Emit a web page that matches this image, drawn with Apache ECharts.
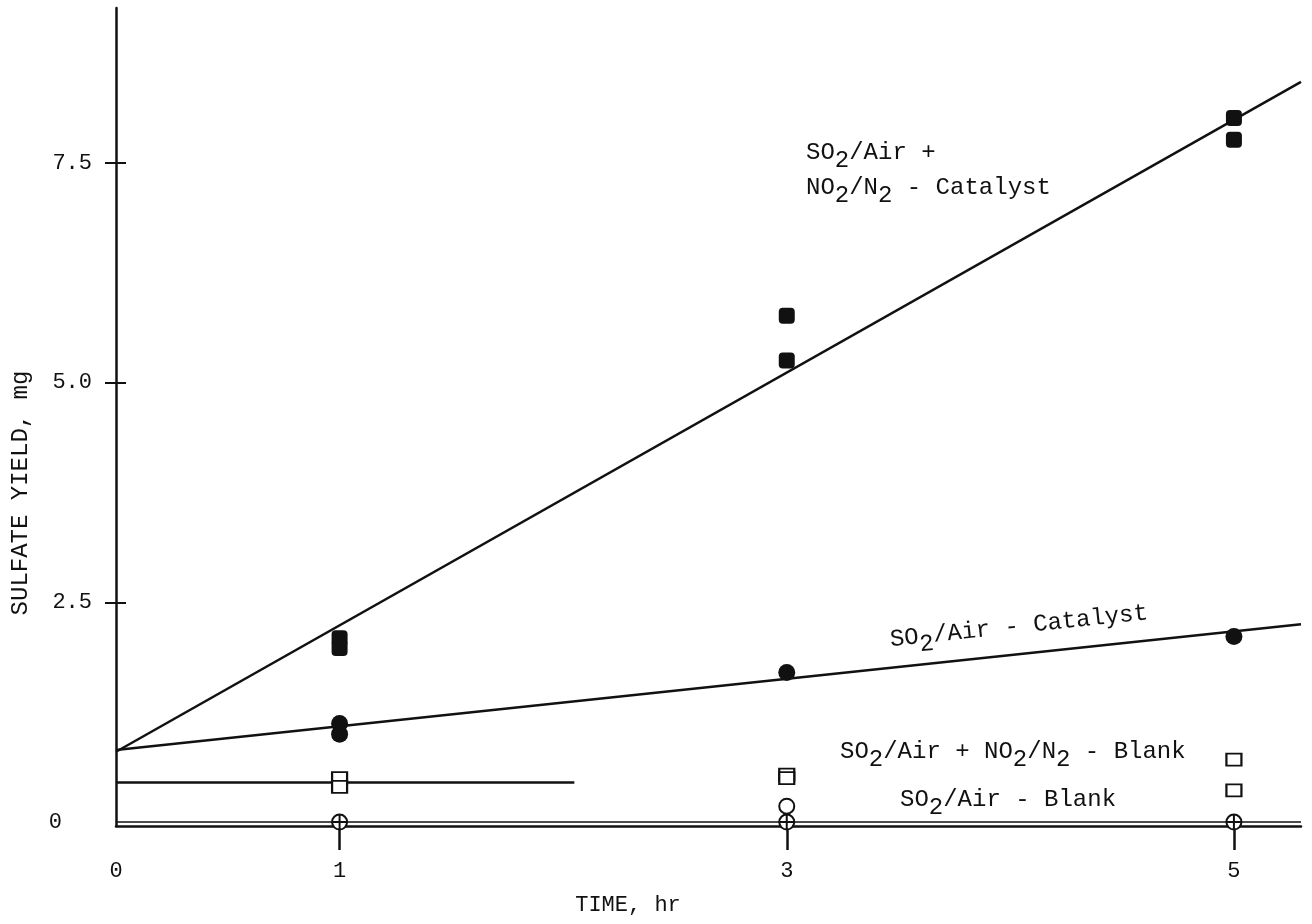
<!DOCTYPE html>
<html>
<head>
<meta charset="utf-8">
<script src="https://cdn.jsdelivr.net/npm/echarts@6/dist/echarts.min.js"></script>
<style>
html,body{margin:0;padding:0;background:#fff;}
#c{width:1312px;height:924px;}
</style>
</head>
<body>
<div id="c"></div>
<script>
// ---- data ----
const xTickValues = [1, 3, 5];
const xLabelValues = [0, 1, 3, 5];
const yLabelValues = [0, 2.5, 5, 7.5];
const yTickValues = [2.5, 5, 7.5];

// SO2/Air + NO2/N2 - Catalyst (filled squares)
const catNO2 = [[1, 2.09], [1, 1.98], [3, 5.76], [3, 5.25], [5, 8.01], [5, 7.76]];
// SO2/Air - Catalyst (filled circles)
const catSO2 = [[1, 1.12], [1, 1.00], [3, 1.70], [5, 2.11]];
// SO2/Air + NO2/N2 - Blank (open squares)
const blankNO2 = [[1, 0.50], [1, 0.40], [3, 0.54], [3, 0.50], [5, 0.71], [5, 0.36]];
// SO2/Air - Blank (crossed circles)
const blankSO2 = [[1, 0.0], [3, 0.0], [5, 0.0]];
const blankSO2Open = [[3, 0.18]];

// fitted lines (end points)
const fitCatNO2 = [[0, 0.80], [5.3, 8.42]];
const fitCatSO2 = [[0, 0.82], [5.3, 2.25]];
const fitBlankNO2 = [[0, 0.45], [2.05, 0.45]];
const fitBlankSO2 = [[0, 0.0], [5.3, 0.0]];

const FONT = '"Liberation Mono", "DejaVu Sans Mono", monospace';
const INK = '#111';

const crossCircle = 'path://M-1,0A1,1,0,1,0,1,0A1,1,0,1,0,-1,0ZM0,-1L0,1M-1,0L1,0';

function lineSeries(data) {
  return {
    type: 'line', data: data, symbol: 'none', silent: true,
    lineStyle: {color: INK, width: 2.5}, z: 2, animation: false
  };
}

const rich = {
  n: {fontFamily: FONT, fontSize: 24, color: INK, verticalAlign: 'middle'},
  s: {fontFamily: FONT, fontSize: 24, color: INK, verticalAlign: 'middle', padding: [16, 0, 0, 0]}
};

function annot(x, y, text, rot) {
  return {
    type: 'text', x: x, y: y, rotation: rot || 0, z: 100,
    style: {text: text, rich: rich, align: 'left', verticalAlign: 'middle', fill: INK}
  };
}

const chart = echarts.init(document.getElementById('c'), null, {renderer: 'canvas'});
chart.setOption({
  backgroundColor: '#fff',
  animation: false,
  grid: {left: 116, right: 11, top: 8, bottom: 98, outerBoundsMode: 'none', containLabel: false},
  xAxis: {
    type: 'value', min: 0, max: 5.3,
    axisLine: {show: true, onZero: false, lineStyle: {color: INK, width: 2.5}},
    axisTick: {show: true, customValues: xTickValues, length: 24, lineStyle: {color: INK, width: 2.5}},
    axisLabel: {show: true, customValues: xLabelValues, margin: 34, fontFamily: FONT, fontSize: 22, color: INK,
      formatter: v => String(v)},
    splitLine: {show: false}
  },
  yAxis: [{
    type: 'value', min: -0.045, max: 9.26,
    axisLine: {show: true, onZero: false, lineStyle: {color: INK, width: 2.5}},
    axisTick: {show: true, customValues: yTickValues, length: 11, lineStyle: {color: INK, width: 2}},
    axisLabel: {show: true, customValues: yLabelValues, margin: 24, fontFamily: FONT, fontSize: 22, color: INK,
      formatter: v => v === 0 ? '{z|0}' : '{a|' + v.toFixed(1) + '}',
      rich: {z: {fontFamily: FONT, fontSize: 22, color: INK, padding: [0, 30, 0, 0]},
             a: {fontFamily: FONT, fontSize: 22, color: INK}}},
    splitLine: {show: false}
  }, {
    type: 'value', min: -0.045, max: 9.26, position: 'left',
    axisLine: {show: false},
    axisTick: {show: true, inside: true, customValues: yTickValues, length: 10, lineStyle: {color: INK, width: 2}},
    axisLabel: {show: false},
    splitLine: {show: false}
  }],
  series: [
    lineSeries(fitCatNO2),
    lineSeries(fitCatSO2),
    lineSeries(fitBlankNO2),
    Object.assign(lineSeries(fitBlankSO2), {lineStyle: {color: INK, width: 1.5}}),
    {type: 'scatter', data: catNO2, symbol: 'roundRect', symbolSize: 16,
     itemStyle: {color: INK, opacity: 1}, z: 5},
    {type: 'scatter', data: catSO2, symbol: 'circle', symbolSize: 17,
     itemStyle: {color: INK, opacity: 1}, z: 5},
    {type: 'scatter', data: blankNO2, symbol: 'rect', symbolSize: [15, 12],
     itemStyle: {color: '#fff', borderColor: INK, borderWidth: 2, opacity: 1}, z: 5},
    {type: 'scatter', data: blankSO2, symbol: crossCircle, symbolSize: 15, symbolKeepAspect: true,
     itemStyle: {color: '#fff', borderColor: INK, borderWidth: 2, opacity: 1}, z: 5},
    {type: 'scatter', data: blankSO2Open, symbol: 'circle', symbolSize: 15,
     itemStyle: {color: '#fff', borderColor: INK, borderWidth: 2, opacity: 1}, z: 5}
  ],
  graphic: [
    {type: 'text', x: 21, y: 493, rotation: Math.PI / 2, z: 100,
     style: {text: 'SULFATE YIELD, mg', font: '24px ' + FONT, fill: INK, align: 'center', verticalAlign: 'middle'}},
    {type: 'text', x: 628, y: 905, z: 100,
     style: {text: 'TIME, hr', font: '22px ' + FONT, fill: INK, align: 'center', verticalAlign: 'middle'}},
    annot(806, 153, '{n|SO}{s|2}{n|/Air +}'),
    annot(806, 188, '{n|NO}{s|2}{n|/N}{s|2}{n| - Catalyst}'),
    annot(890, 640, '{n|SO}{s|2}{n|/Air - Catalyst}', 0.105),
    annot(840, 752, '{n|SO}{s|2}{n|/Air + NO}{s|2}{n|/N}{s|2}{n| - Blank}'),
    annot(900, 800, '{n|SO}{s|2}{n|/Air - Blank}')
  ]
});
</script>
</body>
</html>
